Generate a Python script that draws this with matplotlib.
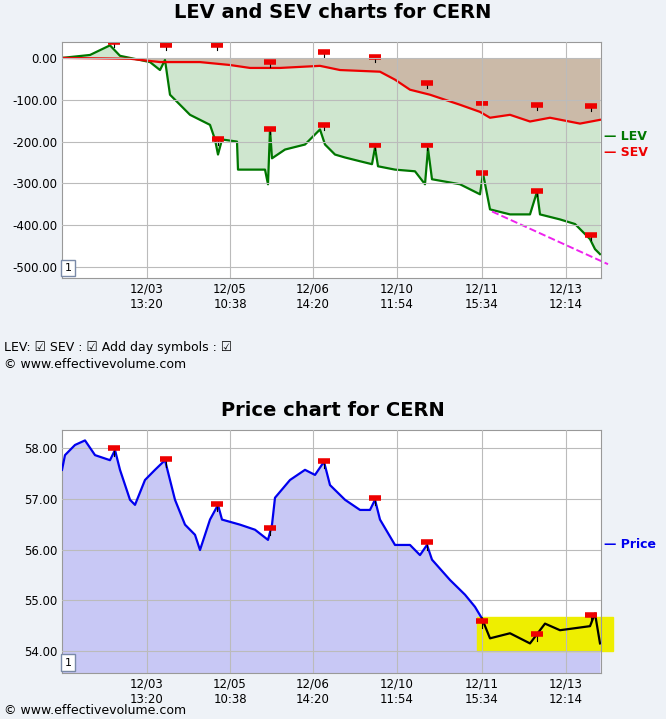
import matplotlib
matplotlib.use("Agg")
import matplotlib.pyplot as plt
import numpy as np

tick_pos = [85, 168, 251, 335, 420, 504]
tick_labels = ["12/03\n13:20", "12/05\n10:38", "12/06\n14:20", "12/10\n11:54", "12/11\n15:34", "12/13\n12:14"]

lev_x = [0,28,48,58,88,98,103,108,118,128,138,148,153,156,160,175,176,203,206,208,210,223,243,258,263,273,283,298,310,313,316,333,353,363,366,370,398,418,421,428,448,468,475,478,498,513,528,533,538]
lev_y = [0,7,30,5,-10,-29,-5,-88,-112,-136,-148,-160,-195,-231,-195,-200,-267,-267,-302,-171,-240,-219,-207,-171,-207,-231,-238,-247,-254,-214,-259,-267,-271,-302,-217,-290,-302,-326,-276,-362,-374,-374,-320,-374,-386,-397,-433,-457,-469]
sev_x = [0,68,98,138,168,188,218,258,278,318,333,348,368,398,418,428,448,468,488,518,538]
sev_y = [0,-2,-10,-10,-17,-24,-24,-19,-29,-33,-52,-76,-88,-112,-129,-143,-136,-152,-143,-157,-148]
flag_x = [52,104,155,208,262,313,365,420,475,529,156,208,262,313,365,420,475,529]
flag_y = [38,31,31,-10,14,2,-60,-107,-112,-114,-195,-171,-160,-209,-207,-276,-319,-424]
trend_x = [430, 546]
trend_y = [-367, -493]

px_x = [0,3,13,23,33,48,53,58,68,73,83,93,103,113,123,133,138,148,156,160,178,193,206,210,213,228,243,253,262,268,283,298,308,313,318,333,348,358,365,370,388,403,413,420,428,448,468,483,498,513,528,533,538]
px_y = [57.57,57.86,58.06,58.15,57.86,57.76,57.96,57.57,56.98,56.88,57.37,57.57,57.76,56.98,56.49,56.29,55.99,56.59,56.88,56.59,56.49,56.39,56.19,56.49,57.02,57.37,57.57,57.47,57.73,57.27,56.98,56.78,56.78,56.98,56.59,56.09,56.09,55.89,56.09,55.80,55.40,55.11,54.87,54.64,54.25,54.35,54.15,54.54,54.41,54.45,54.49,54.74,54.15]
pflag_x = [52,104,155,208,262,313,365,420,475,529]
pflag_y = [58.0,57.78,56.9,56.43,57.75,57.02,56.15,54.6,54.34,54.71]

bg = "#eef2f7"
fig = plt.figure(figsize=(6.66, 7.19), dpi=100, facecolor=bg)

def style(ax):
    ax.set_xlim(0, 539)
    ax.set_xticks(tick_pos)
    ax.set_xticklabels(tick_labels, fontsize=8.5)
    ax.grid(True, color="#bbbbbb", lw=0.8)
    ax.set_axisbelow(False)
    ax.tick_params(length=0, labelsize=8.5)
    for s in ax.spines.values():
        s.set_color("#999999")
    ax.text(0.005, 0.03, "1", transform=ax.transAxes, fontsize=8,
            bbox=dict(facecolor="white", edgecolor="#7a8aa8", boxstyle="square,pad=0.3"), zorder=10)

# top chart
ax1 = fig.add_axes([62/666, 1-278/719, 539/666, 236/719])
xs = np.linspace(0, 538, 540)
lev = np.interp(xs, lev_x, lev_y)
sev = np.interp(xs, sev_x, sev_y)
ax1.fill_between(xs, 0, sev, color="#cbbaa8", lw=0)
ax1.fill_between(xs, sev, lev, color="#cfe6cf", lw=0)
ax1.plot(lev_x, lev_y, color="#007700", lw=1.6)
ax1.plot(sev_x, sev_y, color="#ee0000", lw=1.6)
for fx, fy in zip(flag_x, flag_y):
    ax1.plot([fx, fx], [fy, fy - 12], color="black", lw=0.8)
ax1.plot(flag_x, flag_y, ls="none", marker="_", ms=9, mew=4, color="#ee0000")
ax1.plot(trend_x, trend_y, color="#ee22ee", ls="--", lw=1.4, clip_on=False)
ax1.set_ylim(-526, 38)
ax1.set_yticks([0, -100, -200, -300, -400, -500])
ax1.set_yticklabels(["0.00", "-100.00", "-200.00", "-300.00", "-400.00", "-500.00"])
style(ax1)
fig.text(0.5, 1-12/719, "LEV and SEV charts for CERN", ha="center", va="center", fontsize=14, fontweight="bold")
fig.text(604/666, 1-137/719, "— LEV", color="#007700", fontsize=9, fontweight="bold", va="center")
fig.text(604/666, 1-153/719, "— SEV", color="#ee0000", fontsize=9, fontweight="bold", va="center")
fig.text(4/666, 1-347/719, "LEV: ☑ SEV : ☑ Add day symbols : ☑", fontsize=9, va="center")
fig.text(4/666, 1-365/719, "© www.effectivevolume.com", fontsize=9, va="center")

# bottom chart
ax2 = fig.add_axes([62/666, 1-673/719, 539/666, 243/719])
ax2.set_ylim(53.567, 58.355)
ax2.fill_between(px_x, 53.567, px_y, color="#c8c8f5", lw=0)
ax2.add_patch(plt.Rectangle((415, 54.0), 136, 0.67, color="#eeee00", zorder=2, clip_on=False))
ax2.plot(px_x[:44], px_y[:44], color="#0000ee", lw=1.6, zorder=3)
ax2.plot(px_x[43:], px_y[43:], color="black", lw=1.6, zorder=3)
for fx, fy in zip(pflag_x, pflag_y):
    ax2.plot([fx, fx], [fy, fy - 0.15], color="black", lw=0.8, zorder=4)
ax2.plot(pflag_x, pflag_y, ls="none", marker="_", ms=9, mew=4, color="#ee0000", zorder=5)
ax2.set_yticks([54, 55, 56, 57, 58])
ax2.set_yticklabels(["54.00", "55.00", "56.00", "57.00", "58.00"])
style(ax2)
fig.text(0.5, 1-410/719, "Price chart for CERN", ha="center", va="center", fontsize=14, fontweight="bold")
fig.text(604/666, 1-545/719, "— Price", color="#0000ee", fontsize=9, fontweight="bold", va="center")
fig.text(4/666, 1-711/719, "© www.effectivevolume.com", fontsize=9, va="center")

fig.savefig("out.png", dpi=100, facecolor=bg)
